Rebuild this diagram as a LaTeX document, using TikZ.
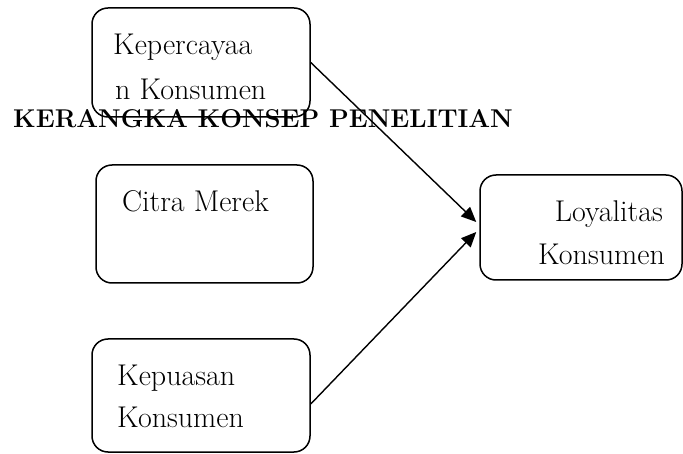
\documentclass[tikz,border=0pt]{standalone}
\usepackage{fontspec}
\usetikzlibrary{arrows.meta}
\begin{document}
\begin{tikzpicture}[x=1pt,y=-1pt,
    box/.style={draw,line width=1.5pt,rounded corners=16pt,inner sep=0pt},
    lbl/.style={font=\fontsize{30}{45}\selectfont,inner sep=0pt},
    link/.style={line width=1.4pt,-{Triangle[length=15pt,width=13pt]}}]
        \useasboundingbox (0,0) rectangle (683,454);
        \node[anchor=base west,inner sep=0pt,font=\fontsize{25.7}{30}\selectfont\bfseries] (judul) at (13,128) {KERANGKA KONSEP PENELITIAN};
        \node[box,minimum width=218pt,minimum height=109pt] (kp) at (201,62.5) {};
        \node[box,minimum width=217pt,minimum height=118pt] (cm) at (204.5,224) {};
        \node[box,minimum width=218pt,minimum height=113pt] (kk) at (201,395.5) {};
        \node[box,minimum width=202pt,minimum height=105pt] (ly) at (581,227.5) {};
        \node[lbl,anchor=base west] (kpa) at (113,55) {Kepercayaa};
        \node[lbl,anchor=base west] (kpb) at (115,100) {n Konsumen};
        \node[lbl,anchor=base west] (cma) at (122,212) {Citra Merek};
        \node[lbl,anchor=base west] (kka) at (117,385) {Kepuasan};
        \node[lbl,anchor=base west] (kkb) at (117,428) {Konsumen};
        \node[lbl,anchor=base east] (lya) at (663,222) {Loyalitas};
        \node[lbl,anchor=base east] (lyb) at (665,265) {Konsumen};
        \draw[link] (kp.east) -- ([xshift=-3pt,yshift=5.5pt]ly.west);
        \draw[link] ([yshift=-8.5pt]kk.east) -- ([xshift=-3pt,yshift=-4.5pt]ly.west);
    \end{tikzpicture}
\end{document}
